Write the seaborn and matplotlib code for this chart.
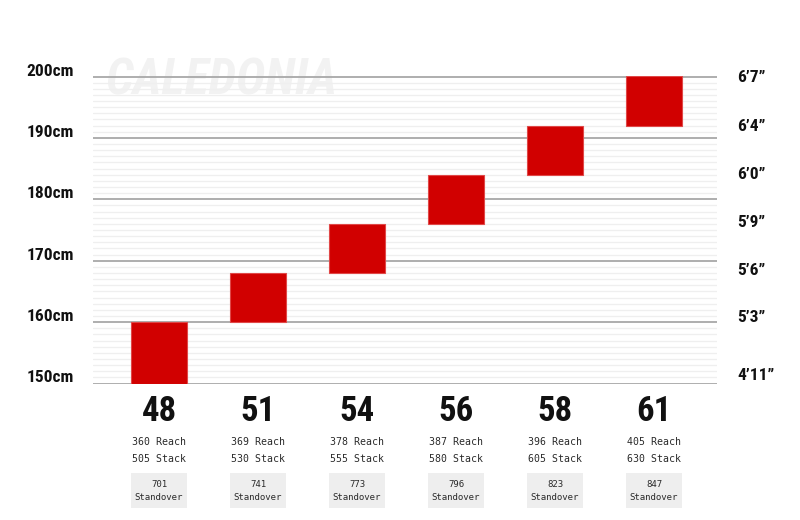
import numpy as np
import pandas as pd
import matplotlib
matplotlib.use("Agg")
import matplotlib.pyplot as plt
from matplotlib import font_manager as fm
from matplotlib.transforms import ScaledTranslation
from matplotlib.patches import Rectangle
import seaborn as sns

# ---- data ----
sizes = ["48", "51", "54", "56", "58", "61"]
height_low_cm = [150, 160, 168, 176, 184, 192]
height_high_cm = [160, 168, 176, 184, 192, 200]
reach = [360, 369, 378, 387, 396, 405]
stack = [505, 530, 555, 580, 605, 630]
standover = [701, 741, 773, 796, 823, 847]
cm_ticks = [150, 160, 170, 180, 190, 200]
cm_labels = ["150cm", "160cm", "170cm", "180cm", "190cm", "200cm"]
imperial_ticks = [151.6, 161.3, 169.1, 177.2, 185.3, 193.3, 201.4]
imperial_labels = ["4\u201911\u201d", "5\u20193\u201d", "5\u20196\u201d", "5\u20199\u201d",
                   "6\u20190\u201d", "6\u20194\u201d", "6\u20197\u201d"]
brand = "CALEDONIA"

# ---- fonts ----
ttf = fm.fontManager.ttflist
names = {f.name for f in ttf}
cond_kw = {"family": "DejaVu Sans"}
for cand in ["Roboto Condensed", "Liberation Sans Narrow", "Open Sans Condensed"]:
    if cand in names:
        cond_kw = {"family": cand}
        break
else:
    if any(f.name == "DejaVu Sans" and f.stretch == "condensed" for f in ttf):
        cond_kw = {"family": "DejaVu Sans", "stretch": "condensed"}
MONO = "DejaVu Sans Mono" if "DejaVu Sans Mono" in names else "Liberation Mono"

sns.set_theme(style="white")

df = pd.DataFrame({
    "size": sizes,
    "span": np.array(height_high_cm) - np.array(height_low_cm),
})

fig = plt.figure(figsize=(8, 5.2), dpi=100)
ax = fig.add_axes([93 / 800, 136.5 / 520, 624 / 800, 307 / 520])

sns.barplot(data=df, x="size", y="span", bottom=height_low_cm, color="#d10000",
            saturation=1, width=0.566, edgecolor="#e04848", linewidth=0.8,
            ax=ax, zorder=3)

ax.set_xlim(-0.667, 5.636)
ax.set_ylim(150, 200)
ax.set_xlabel("")
ax.set_ylabel("")
for s in ax.spines.values():
    s.set_visible(False)

ax.set_yticks(cm_ticks)
ax.set_yticklabels(cm_labels)
ax.set_yticks(np.arange(150, 201, 1), minor=True)
ax.set_axisbelow(True)
ax.grid(False, axis="x")
ax.grid(True, which="major", axis="y", color="#a8a8a8", linewidth=1.3, zorder=1)
ax.grid(True, which="minor", axis="y", color="#efefef", linewidth=0.9, zorder=0.9)
ax.tick_params(axis="y", which="both", length=0, pad=13.5)
ax.tick_params(axis="x", length=0, labelbottom=False)
for lbl in ax.get_yticklabels():
    lbl.set_fontproperties(fm.FontProperties(weight="bold", size=12.5, **cond_kw))
    lbl.set_color("#111111")
    lbl.set_transform(lbl.get_transform() + ScaledTranslation(0, 7 / 100, fig.dpi_scale_trans))

ax2 = ax.twinx()
ax2.set_ylim(150, 200)
ax2.set_yticks(imperial_ticks)
ax2.set_yticklabels(imperial_labels)
ax2.tick_params(axis="y", length=0, pad=14.4)
ax2.grid(False)
for s in ax2.spines.values():
    s.set_visible(False)
for lbl in ax2.get_yticklabels():
    lbl.set_fontproperties(fm.FontProperties(weight="bold", size=12.5, **cond_kw))
    lbl.set_color("#111111")

# watermark
ax.text(0.019, 0.94, brand, transform=ax.transAxes, ha="left", va="baseline",
        color="#f2f2f2", zorder=0.2, clip_on=False,
        fontproperties=fm.FontProperties(weight="bold", style="italic", size=36, **cond_kw))

# labels under bars
xt = ax.get_xaxis_transform()
for i, sz in enumerate(sizes):
    ax.text(i, -0.09, sz, transform=xt, ha="center", va="center", color="#111111",
            clip_on=False,
            fontproperties=fm.FontProperties(weight="bold", size=25, **cond_kw))
    ax.text(i, -0.19, f"{reach[i]} Reach", transform=xt, ha="center", va="center",
            family=MONO, fontsize=7.1, color="#2a2a2a", clip_on=False)
    ax.text(i, -0.246, f"{stack[i]} Stack", transform=xt, ha="center", va="center",
            family=MONO, fontsize=7.1, color="#2a2a2a", clip_on=False)
    ax.add_patch(Rectangle((i - 0.283, -0.404), 0.566, 0.114, transform=xt,
                           facecolor="#eeeeee", edgecolor="none", clip_on=False))
    ax.text(i, -0.33, f"{standover[i]}", transform=xt, ha="center", va="center",
            family=MONO, fontsize=6.5, color="#2a2a2a", clip_on=False)
    ax.text(i, -0.37, "Standover", transform=xt, ha="center", va="center",
            family=MONO, fontsize=6.5, color="#2a2a2a", clip_on=False)

fig.savefig("out.png", dpi=100, facecolor="white")
